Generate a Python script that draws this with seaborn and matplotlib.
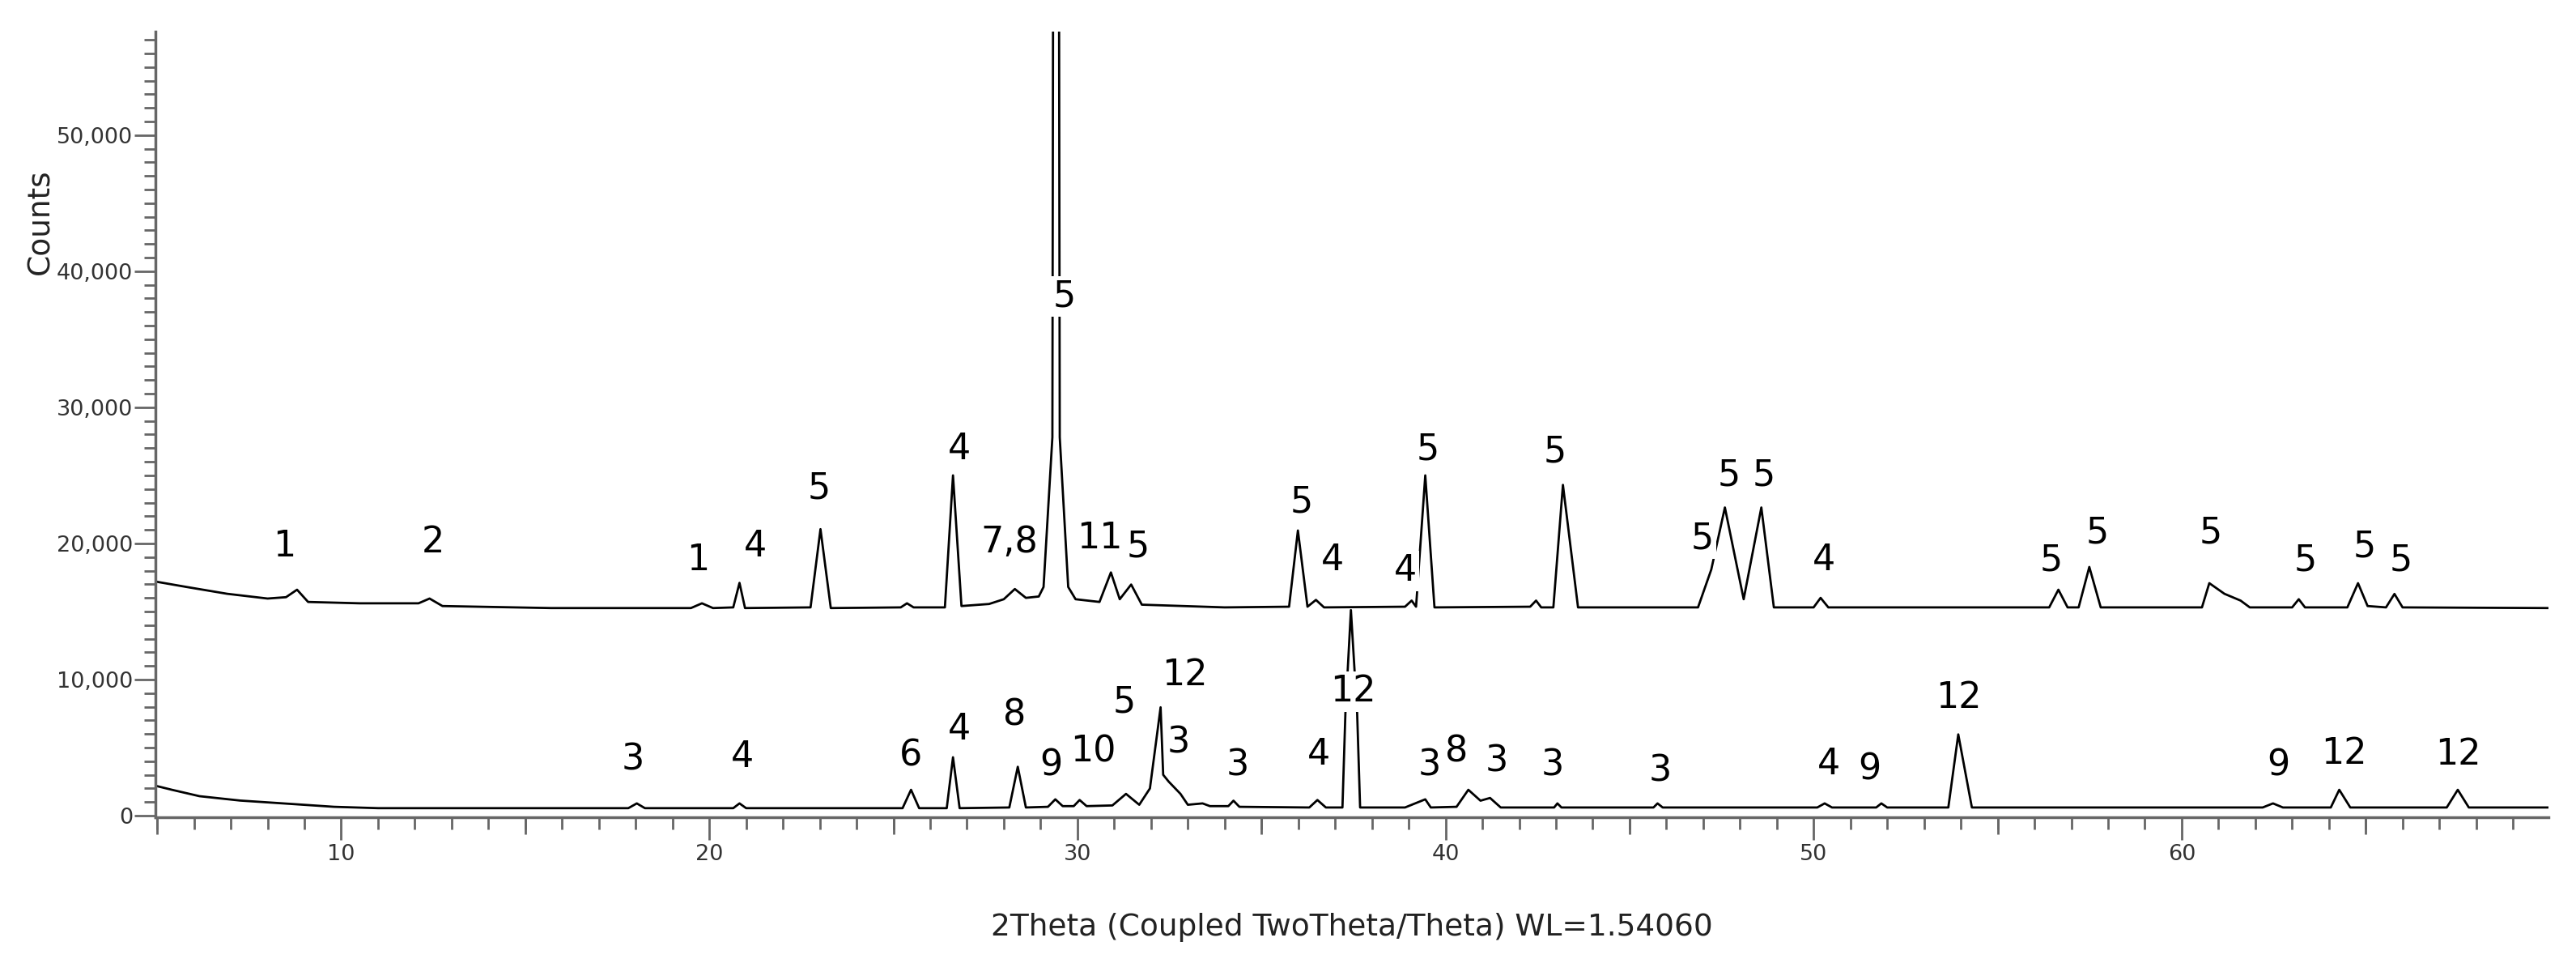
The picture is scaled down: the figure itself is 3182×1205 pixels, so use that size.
import numpy as np
import pandas as pd
import matplotlib
matplotlib.use("Agg")
import matplotlib.pyplot as plt
import seaborn as sns
from matplotlib.ticker import FixedLocator, MultipleLocator, FuncFormatter

# ---------------- data ----------------
# upper pattern (vertices of the trace: 2theta, counts)
upper_x = [4.95, 5.8, 6.9, 8.0, 8.5, 8.8, 9.1, 10.5, 12.1, 12.4, 12.75, 15.7,
           19.5, 19.8, 20.1, 20.65, 20.82, 20.97, 22.75, 23.02, 23.3,
           25.2, 25.37, 25.55, 26.4, 26.62, 26.85, 27.6, 28.0, 28.3, 28.6,
           28.95, 29.08, 29.32, 29.42, 29.52, 29.75, 29.95, 30.6, 30.91, 31.15,
           31.46, 31.75, 34.0, 35.75, 35.99, 36.25, 36.48, 36.7, 38.9, 39.08,
           39.2, 39.45, 39.7, 42.3, 42.46, 42.6, 42.93, 43.19, 43.6, 46.86,
           47.22, 47.59, 48.1, 48.58, 48.92, 50.0, 50.19, 50.4, 56.4, 56.65,
           56.9, 57.2, 57.49, 57.8, 60.55, 60.75, 61.16, 61.6, 61.85, 63.0,
           63.18, 63.35, 64.5, 64.79, 65.05, 65.55, 65.78, 66.0, 69.97]
upper_y = [17200, 16800, 16300, 15950, 16050, 16600, 15700, 15600, 15600, 15950, 15400, 15250,
           15250, 15600, 15250, 15300, 17100, 15250, 15300, 21050, 15250,
           15300, 15600, 15300, 15300, 25000, 15400, 15550, 15900, 16650, 16000,
           16100, 16800, 27800, 200000, 27800, 16800, 15900, 15700, 17870, 15900,
           16980, 15500, 15300, 15350, 20950, 15350, 15850, 15300, 15350, 15800,
           15350, 25000, 15300, 15350, 15800, 15300, 15300, 24300, 15300, 15300,
           18080, 22640, 15900, 22640, 15300, 15300, 16000, 15300, 15300, 16600,
           15300, 15300, 18270, 15300, 15300, 17080, 16300, 15800, 15300, 15300,
           15900, 15300, 15300, 17080, 15400, 15300, 16290, 15300, 15250]

# lower pattern
lower_x = [4.95, 5.4, 6.15, 7.25, 8.7, 9.8, 11.0, 17.8, 18.03, 18.25, 20.65, 20.82, 21.0,
           25.25, 25.48, 25.7, 26.45, 26.62, 26.8, 28.15, 28.38, 28.6, 29.2, 29.4, 29.6,
           29.9, 30.06, 30.25, 30.95, 31.32, 31.68, 31.97, 32.26, 32.33, 32.48, 32.8, 33.0,
           33.4, 33.6, 34.1, 34.24, 34.4, 36.3, 36.52, 36.75, 37.2, 37.28, 37.43, 37.6,
           37.68, 38.9, 39.45, 39.6, 40.3, 40.62, 40.95, 41.21, 41.5, 42.95, 43.04,
           43.15, 45.65, 45.76, 45.9, 50.1, 50.3, 50.5, 51.7, 51.84, 52.0, 53.66,
           53.93, 54.3, 62.2, 62.48, 62.75, 64.05, 64.28, 64.58, 67.2, 67.5, 67.8, 69.97]
lower_y = [2200, 1900, 1430, 1110, 850, 650, 550, 550, 900, 550, 550, 900, 550,
           550, 1900, 550, 550, 4290, 550, 600, 3590, 600, 650, 1200, 700,
           700, 1150, 700, 750, 1600, 800, 2000, 7960, 3000, 2500, 1600, 800,
           900, 700, 700, 1100, 650, 600, 1150, 600, 600, 7500, 15100, 7500,
           600, 600, 1200, 600, 650, 1900, 1100, 1300, 600, 600, 900,
           600, 600, 900, 600, 600, 900, 600, 600, 900, 600, 600,
           5970, 600, 600, 900, 600, 600, 1900, 600, 600, 1900, 600, 600]

# phase labels
upper_lab = ["1", "2", "1", "4", "5", "4", "7,8", "5", "11", "5", "5", "4", "4", "5",
             "5", "5", "5", "5", "4", "5", "5", "5", "5", "5", "5"]
upper_lab_x = [8.46, 12.50, 19.69, 21.26, 22.99, 26.79, 28.16, 29.64, 30.61, 31.64,
               36.08, 36.92, 38.90, 39.52, 42.97, 46.97, 47.70, 48.65, 50.27, 56.46,
               57.70, 60.79, 63.36, 64.97, 65.96]
upper_lab_y = [19760, 20060, 18770, 19760, 24030, 26930, 20060, 38150, 20360, 19760,
               23040, 18770, 17980, 26900, 26710, 20360, 25020, 25020, 18770, 18770,
               20750, 20750, 18770, 19760, 18770]

lower_lab = ["3", "4", "6", "4", "8", "9", "10", "5", "12", "3", "3", "4", "12", "3",
             "8", "3", "3", "3", "4", "9", "12", "9", "12", "12"]
lower_lab_x = [17.93, 20.90, 25.48, 26.79, 28.30, 29.29, 30.43, 31.27, 32.92, 32.74,
               34.35, 36.55, 37.48, 39.56, 40.29, 41.39, 42.90, 45.83, 50.41, 51.51,
               53.93, 62.63, 64.42, 67.50]
lower_lab_y = [4090, 4290, 4390, 6320, 7360, 3690, 4680, 8350, 10330, 5380,
               3690, 4480, 9120, 3690, 4680, 3990, 3690, 3290, 3790, 3390,
               8650, 3690, 4580, 4480]

y_ticks = [0, 10000, 20000, 30000, 40000, 50000]
x_ticks = [10, 20, 30, 40, 50, 60]
x_mid_ticks = [5, 15, 25, 35, 45, 55, 65]

# ---------------- drawing ----------------
sns.set_style("ticks")
plt.rcParams["font.family"] = ["DejaVu Sans"]

fig = plt.figure(figsize=(31.82, 12.05), dpi=100)
ax = fig.add_axes([0.0603, 0.1629, 0.9291, 0.8047])

df_u = pd.DataFrame({"two_theta": upper_x, "counts": upper_y})
df_l = pd.DataFrame({"two_theta": lower_x, "counts": lower_y})
sns.lineplot(data=df_u, x="two_theta", y="counts", ax=ax, color="black",
             linewidth=2.0, estimator=None, sort=False, zorder=2)
sns.lineplot(data=df_l, x="two_theta", y="counts", ax=ax, color="black",
             linewidth=2.0, estimator=None, sort=False, zorder=2)

bbox = dict(boxstyle="square,pad=0.08", facecolor="white", edgecolor="none")
for t, x, y in zip(upper_lab, upper_lab_x, upper_lab_y):
    ax.text(x, y, t, fontsize=32, ha="center", va="center", color="black",
            bbox=bbox, zorder=5)
for t, x, y in zip(lower_lab, lower_lab_x, lower_lab_y):
    ax.text(x, y, t, fontsize=32, ha="center", va="center", color="black",
            bbox=bbox, zorder=5)

ax.set_xlim(4.95, 69.97)
ax.set_ylim(-100, 57600)

ax.xaxis.set_major_locator(FixedLocator(x_ticks))
ax.xaxis.set_minor_locator(MultipleLocator(1))
ax.yaxis.set_major_locator(FixedLocator(y_ticks))
ax.yaxis.set_minor_locator(MultipleLocator(1000))
ax.yaxis.set_major_formatter(FuncFormatter(lambda v, p: f"{int(v):,}"))

tick_col = "#666666"
ax.tick_params(axis="x", which="major", length=20, width=2, color=tick_col,
               labelsize=19.5, labelcolor="#333333", pad=4)
ax.tick_params(axis="x", which="minor", length=11, width=2, color=tick_col)
ax.tick_params(axis="y", which="major", length=19, width=2, color=tick_col,
               labelsize=19.5, labelcolor="#333333", pad=1)
ax.tick_params(axis="y", which="minor", length=10, width=2, color=tick_col)

sec = ax.secondary_xaxis("bottom")
sec.set_xticks(x_mid_ticks)
sec.tick_params(axis="x", length=15, width=2, color=tick_col, labelbottom=False)
sec.spines["bottom"].set_visible(False)

sns.despine(ax=ax)
for s in ["left", "bottom"]:
    ax.spines[s].set_color(tick_col)
    ax.spines[s].set_linewidth(2.5)

ax.set_xlabel("2Theta (Coupled TwoTheta/Theta) WL=1.54060", fontsize=27, color="#222222")
ax.xaxis.set_label_coords(0.5, -0.141)
ax.xaxis.label.set_va("center")
ax.set_ylabel("Counts", fontsize=27, color="#222222")
ax.yaxis.set_label_coords(-0.048, 0.758)
ax.yaxis.label.set_va("center")

fig.savefig("out.png", dpi=100, facecolor="white")
